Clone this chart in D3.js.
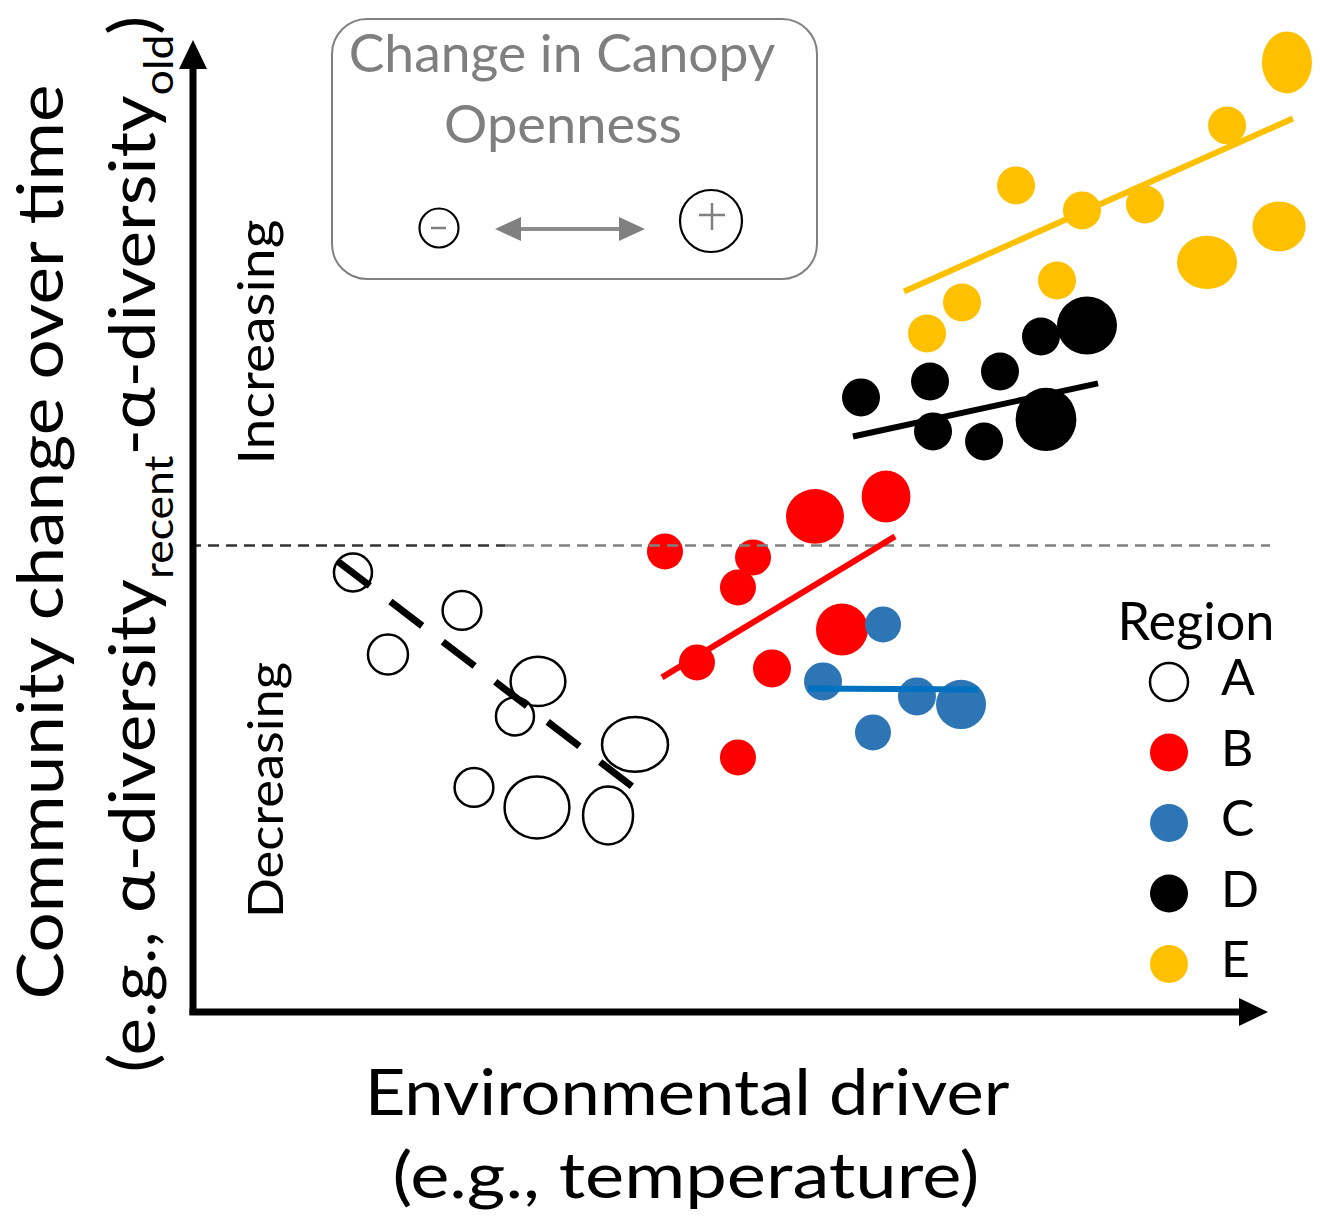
<!DOCTYPE html>
<html><head><meta charset="utf-8">
<script src="https://cdn.jsdelivr.net/npm/d3@7"></script>
<style>body{margin:0;background:#fff} svg{display:block}</style>
</head><body>
<svg id="chart" width="1323" height="1220"></svg>
<script>
// ---- data (x: environmental driver, y: community change; w,h: bubble size) ----
const regionNames = ["A", "B", "C", "D", "E"];
const regionFill  = ["#FFFFFF", "#FF0000", "#2E75B6", "#000000", "#FFC000"];
const trendColor  = ["#000000", "#FF0000", "#0070C0", "#000000", "#FFC000"];

const regionA = [[14.95,-2.78,0.95,0.95],[25.14,-6.69,0.97,0.97],[18.22,-11.21,1.0,1.0],
  [32.24,-13.99,1.37,1.23],[30.09,-17.59,0.95,0.95],[41.31,-20.47,1.65,1.37],
  [26.26,-24.90,0.97,0.97],[32.15,-26.95,1.62,1.55],[38.79,-27.78,1.25,1.45]];
const regionB = [[44.11,-0.62,0.9,0.9],[52.34,-1.23,0.9,0.9],[50.93,-4.32,0.9,0.9],
  [58.13,2.98,1.45,1.37],[64.77,5.04,1.22,1.3],[60.65,-8.64,1.3,1.3],
  [47.10,-12.04,0.9,0.9],[54.11,-12.65,0.95,0.95],[50.93,-21.81,0.9,0.9]];
const regionC = [[64.49,-8.13,0.9,0.9],[58.88,-13.99,0.95,0.95],[67.66,-15.53,0.95,0.95],
  [71.78,-16.36,1.25,1.23],[63.55,-19.24,0.9,0.9]];
const regionD = [[62.43,15.23,0.95,0.95],[68.88,16.87,0.95,0.95],[75.42,17.90,0.95,0.95],
  [79.25,21.50,0.95,0.95],[83.55,22.63,1.5,1.45],[69.16,11.73,0.95,0.95],
  [73.93,10.70,0.95,0.95],[79.72,12.96,1.52,1.58]];
const regionE = [[68.60,21.81,0.95,0.95],[71.87,25.00,0.95,0.95],[80.75,27.26,0.95,0.95],
  [76.92,37.04,0.95,0.95],[83.08,34.47,0.95,0.95],[88.97,35.08,0.95,0.95],
  [96.64,43.21,0.95,0.95],[94.77,29.12,1.5,1.33],[101.50,32.82,1.33,1.25],
  [102.24,49.69,1.25,1.55]];

const trendA = [[13.55,-1.65],[41.03,-24.79]];
const trendB = [[43.83,-13.58],[65.61,0.93]];
const trendC = [[57.48,-14.71],[73.36,-14.81]];
const trendD = [[61.68,11.21],[84.58,16.67]];
const trendE = [[66.45,26.13],[102.80,43.93]];

const zeroLine = 0;
const xLabel = ["Environmental driver", "(e.g., temperature)"];
const yLabel1 = "Community change over time";
const canopyTitle = ["Change in Canopy", "Openness"];

const regions = [regionA, regionB, regionC, regionD, regionE];
const trends  = [trendA, trendB, trendC, trendD, trendE];

// ---- scales ----
const svg = d3.select("#chart");
const FONT = "Lato, 'Open Sans', sans-serif";
const x = d3.scaleLinear().domain([0, 100]).range([193, 1263]);
const y = d3.scaleLinear().domain([-48, 52]).range([1012, 40]);
const s = d3.scaleLinear().domain([0, 1]).range([0, 20]);

// fit text horizontally in its own frame
function placeText(t, cx, cy, width, rot) {
  const w = t.node().getBBox().width;
  const k = width / w;
  t.attr("transform", `translate(${cx},${cy})` + (rot ? ` rotate(${rot})` : "") + ` scale(${k},1)`);
}

// ---- points (B, C, D, E, A) ----
const order = [1, 2, 3, 4, 0];
order.forEach(i => {
  svg.append("g").selectAll("ellipse").data(regions[i]).join("ellipse")
    .attr("cx", d => x(d[0])).attr("cy", d => y(d[1]))
    .attr("rx", d => s(d[2])).attr("ry", d => s(d[3]))
    .attr("fill", regionFill[i])
    .attr("stroke", i === 0 ? "#000" : "none")
    .attr("stroke-width", i === 0 ? 2.5 : 0);
});

// ---- zero reference line ----
const xs = x.copy();
svg.append("line").attr("x1", 190).attr("x2", 505).attr("y1", y(zeroLine)).attr("y2", y(zeroLine))
  .attr("stroke", "#333").attr("stroke-width", 2.5).attr("stroke-dasharray", "11,7");
svg.append("line").attr("x1", 505).attr("x2", 1270).attr("y1", y(zeroLine)).attr("y2", y(zeroLine))
  .attr("stroke", "#808080").attr("stroke-width", 2.5).attr("stroke-dasharray", "11,7");

// ---- trend lines ----
const line = d3.line().x(d => x(d[0])).y(d => y(d[1]));
trends.forEach((t, i) => {
  svg.append("path").attr("d", line(t)).attr("fill", "none")
    .attr("stroke", trendColor[i]).attr("stroke-width", i === 0 ? 7 : 6)
    .attr("stroke-dasharray", i === 0 ? "40,26" : null);
});

// ---- axes with arrows ----
svg.append("line").attr("x1", 193).attr("x2", 193).attr("y1", 1015).attr("y2", 62)
  .attr("stroke", "#000").attr("stroke-width", 7);
svg.append("path").attr("d", "M193,40 L179,69 L207,69 Z").attr("fill", "#000");
svg.append("line").attr("x1", 189.5).attr("x2", 1245).attr("y1", 1012).attr("y2", 1012)
  .attr("stroke", "#000").attr("stroke-width", 7);
svg.append("path").attr("d", "M1268,1012 L1239,998 L1239,1026 Z").attr("fill", "#000");

// ---- axis labels ----
const xl1 = svg.append("text").attr("text-anchor", "middle").attr("font-family", FONT)
  .attr("font-size", 63).attr("fill", "#000").text(xLabel[0]);
placeText(xl1, 687, 1115, 645);
const xl2 = svg.append("text").attr("text-anchor", "middle").attr("font-family", FONT)
  .attr("font-size", 63).attr("fill", "#000").text(xLabel[1]);
placeText(xl2, 686, 1198, 587);

const yl1 = svg.append("text").attr("text-anchor", "middle").attr("font-family", FONT)
  .attr("font-size", 64).attr("fill", "#000").text(yLabel1);
placeText(yl1, 63, 542, 915, -90);

const yl2 = svg.append("text").attr("text-anchor", "middle").attr("font-family", FONT)
  .attr("font-size", 64).attr("fill", "#000");
yl2.append("tspan").text("(e.g., α-diversity");
yl2.append("tspan").attr("font-size", 40).attr("dy", 18).text("recent");
yl2.append("tspan").attr("dy", -18).text("-α-diversity");
yl2.append("tspan").attr("font-size", 40).attr("dy", 18).text("old");
yl2.append("tspan").attr("dy", -18).text(")");
placeText(yl2, 155, 544, 1057, -90);

const inc = svg.append("text").attr("text-anchor", "middle").attr("font-family", FONT)
  .attr("font-size", 50).attr("fill", "#000").text("Increasing");
placeText(inc, 274, 342, 245, -90);
const dec = svg.append("text").attr("text-anchor", "middle").attr("font-family", FONT)
  .attr("font-size", 48).attr("fill", "#000").text("Decreasing");
placeText(dec, 283, 790, 256, -90);

// ---- canopy openness box ----
svg.append("rect").attr("x", 332).attr("y", 19).attr("width", 485).attr("height", 260)
  .attr("rx", 35).attr("fill", "none").attr("stroke", "#808080").attr("stroke-width", 2);
const ct1 = svg.append("text").attr("text-anchor", "middle").attr("font-family", FONT)
  .attr("font-size", 52).attr("fill", "#7F7F7F").text(canopyTitle[0]);
placeText(ct1, 562, 72, 427);
const ct2 = svg.append("text").attr("text-anchor", "middle").attr("font-family", FONT)
  .attr("font-size", 52).attr("fill", "#7F7F7F").text(canopyTitle[1]);
placeText(ct2, 563, 143, 238);
svg.append("circle").attr("cx", 439).attr("cy", 228).attr("r", 19.5)
  .attr("fill", "none").attr("stroke", "#000").attr("stroke-width", 2.2);
svg.append("line").attr("x1", 431).attr("x2", 446).attr("y1", 228).attr("y2", 228)
  .attr("stroke", "#808080").attr("stroke-width", 2.5);
svg.append("circle").attr("cx", 711).attr("cy", 221).attr("r", 31)
  .attr("fill", "none").attr("stroke", "#000").attr("stroke-width", 2.2);
svg.append("line").attr("x1", 699).attr("x2", 725).attr("y1", 215).attr("y2", 215)
  .attr("stroke", "#808080").attr("stroke-width", 2.5);
svg.append("line").attr("x1", 712).attr("x2", 712).attr("y1", 203).attr("y2", 230)
  .attr("stroke", "#808080").attr("stroke-width", 2.5);
svg.append("line").attr("x1", 515).attr("x2", 625).attr("y1", 229).attr("y2", 229)
  .attr("stroke", "#8C8C8C").attr("stroke-width", 4);
svg.append("path").attr("d", "M495,229 L521,217 L521,241 Z").attr("fill", "#808080");
svg.append("path").attr("d", "M645,229 L619,217 L619,241 Z").attr("fill", "#808080");

// ---- legend ----
const lg = svg.append("g");
const rt = lg.append("text").attr("text-anchor", "middle").attr("font-family", FONT)
  .attr("font-size", 53).attr("fill", "#000").text("Region");
placeText(rt, 1196, 640, 157);
regionNames.forEach((n, i) => {
  const cy = 682 + i * 70.5;
  lg.append("circle").attr("cx", 1169).attr("cy", cy).attr("r", 19)
    .attr("fill", regionFill[i]).attr("stroke", i === 0 ? "#000" : "none").attr("stroke-width", 2.5);
  lg.append("text").attr("x", 1221).attr("y", cy + 13).attr("font-family", FONT)
    .attr("font-size", 50).attr("fill", "#000").text(n);
});
</script>
</body></html>
